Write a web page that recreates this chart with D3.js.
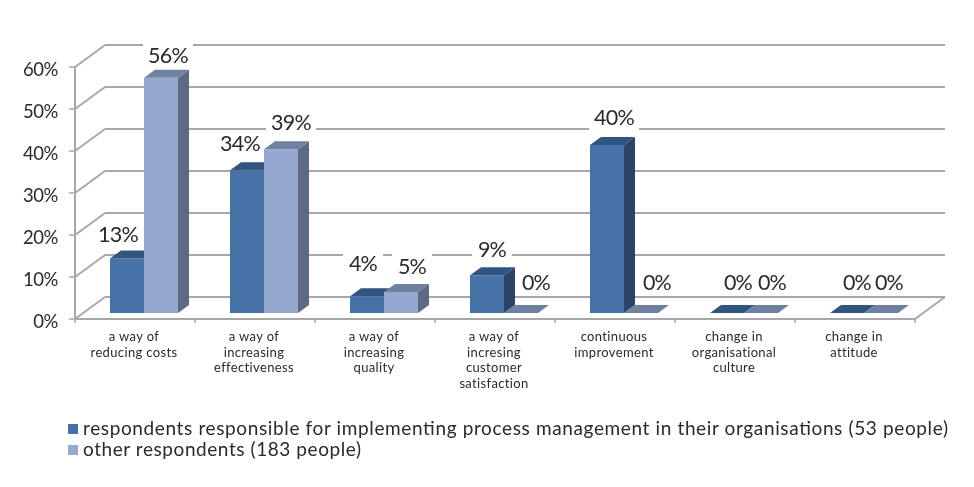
<!DOCTYPE html>
<html><head><meta charset="utf-8">
<script src="https://cdn.jsdelivr.net/npm/d3@7"></script>
<style>html,body{margin:0;padding:0;background:#fff}svg{display:block}text{font-family:"Lato","Open Sans",sans-serif;fill:#2a2a2a}</style>
</head><body><svg id="c" width="974" height="487"></svg>
<script>
const categories=[["a way of","reducing costs"],["a way of","increasing","effectiveness"],["a way of","increasing","quality"],["a way of","incresing","customer","satisfaction"],["continuous","improvement"],["change in","organisational","culture"],["change in","attitude"]];
const responsible=[13,34,4,9,40,0,0];
const others=[56,39,5,0,0,0,0];
const seriesNames=["respondents responsible for implementing process management in their organisations (53 people)","other respondents (183 people)"];
const yTicks=[0,10,20,30,40,50,60];
const nudgeA=[[-9,-25],[-7,-27],[-4,-33],[5,-26],[7,-28],[11,-31],[10,-31]];
const nudgeB=[[7,-23],[10,-27],[11,-26],[15,-31],[16,-31],[11,-31],[8,-31]];

const svg=d3.select("#c");
const defs=svg.append("defs");
defs.append("filter").attr("id","soft").append("feGaussianBlur").attr("stdDeviation",0.45);
const root=svg.append("g").attr("filter","url(#soft)");
const W={x:30,y:-22},B={x:11,y:-8},base={x:0,y:-6};
const x=d3.scaleBand().domain(d3.range(categories.length)).range([75,915]);
const y=d3.scaleLinear().domain([0,60]).range([319,67]);
const grid="#a8a8a8";

root.append("g").selectAll("path").data(yTicks).join("path")
 .attr("d",t=>`M${x.range()[0]+W.x},${y(t)+W.y}H${x.range()[1]+W.x}`)
 .attr("fill","none").attr("stroke",grid).attr("stroke-width",2);
root.append("g").selectAll("line").data(d3.range(categories.length+1)).join("line")
 .attr("x1",i=>75+i*x.bandwidth()).attr("x2",i=>75+i*x.bandwidth()).attr("y1",y(0)).attr("y2",y(0)+4).attr("stroke",grid).attr("stroke-width",1.5);
root.append("g").selectAll("line").data(yTicks).join("line")
 .attr("x1",69).attr("x2",75).attr("y1",t=>y(t)).attr("y2",t=>y(t)).attr("stroke",grid).attr("stroke-width",1.5);
root.append("g").selectAll("text").data(yTicks).join("text")
 .attr("x",58).attr("y",t=>y(t)).attr("dy","0.5em").attr("text-anchor","end").attr("font-size",18.5).attr("letter-spacing",-0.4).text(t=>t+"%");

const barW=34,offs=[35,69];
const series=[
 {v:responsible,o:offs[0],f:"#4672a8",t:"#335480",s:"#2b4468",n:nudgeA},
 {v:others,o:offs[1],f:"#95a9d0",t:"#6f81a0",s:"#5c6b85",n:nudgeB}];

const labels=[];
series.forEach(S=>S.v.forEach((v,i)=>labels.push({v,i,S})));
const lx=d=>x(d.i)+d.S.o+barW/2+d.S.n[d.i][0];
const ly=d=>y(d.v)+base.y+d.S.n[d.i][1];
root.append("g").selectAll("rect").data(labels).join("rect")
 .attr("x",d=>lx(d)-(d.v>=10?25:20)).attr("width",d=>d.v>=10?50:40).attr("y",d=>ly(d)-13).attr("height",26).attr("fill","#fff");

// side-wall diagonals and the axis frame stay unbroken by the label boxes
root.append("g").selectAll("path").data(yTicks).join("path")
 .attr("d",t=>`M${x.range()[0]},${y(t)}L${x.range()[0]+W.x},${y(t)+W.y}`)
 .attr("fill","none").attr("stroke",grid).attr("stroke-width",2);
root.append("path").attr("d",`M75,${y(60)}V${y(0)}H915L945,${y(0)+W.y}`).attr("fill","none").attr("stroke",grid).attr("stroke-width",2);

series.forEach(S=>{
 const g=root.append("g");
 S.v.forEach((v,i)=>{
  const x0=x(i)+S.o,x1=x0+barW,yb=y(0)+base.y,yt=y(v)+base.y;
  g.append("path").attr("fill",S.s).attr("d",`M${x1},${yb}L${x1+B.x},${yb+B.y}V${yt+B.y}L${x1},${yt}Z`);
  g.append("path").attr("fill",S.t).attr("d",`M${x0},${yt}L${x0+B.x},${yt+B.y}H${x1+B.x}L${x1},${yt}Z`);
  g.append("rect").attr("fill",S.f).attr("x",x0).attr("y",yt).attr("width",barW).attr("height",yb-yt);
 });
});

root.append("g").selectAll("text").data(labels).join("text")
 .attr("x",lx).attr("y",ly).attr("dy","0.38em").attr("text-anchor","middle").attr("font-size",21.5).attr("letter-spacing",-0.8).text(d=>d.v+"%");

categories.forEach((c,i)=>{
 root.append("text").attr("text-anchor","middle").attr("font-size",13).attr("letter-spacing",0.35)
  .selectAll("tspan").data(c).join("tspan")
  .attr("x",x(i)+x.bandwidth()/2-1).attr("y",(d,j)=>341+j*15.6).text(d=>d);
});

const cols=[series[0].f,series[1].f],ly0=[424,445];
root.append("g").selectAll("rect").data(cols).join("rect").attr("x",68).attr("y",(d,i)=>ly0[i]).attr("width",10).attr("height",10).attr("fill",d=>d);
root.append("g").selectAll("text").data(seriesNames).join("text")
 .attr("x",83).attr("y",(d,i)=>ly0[i]+11).attr("font-size",19)
 .attr("textLength",(d,i)=>[865,278][i]).attr("lengthAdjust","spacing").text(d=>d);
</script></body></html>
